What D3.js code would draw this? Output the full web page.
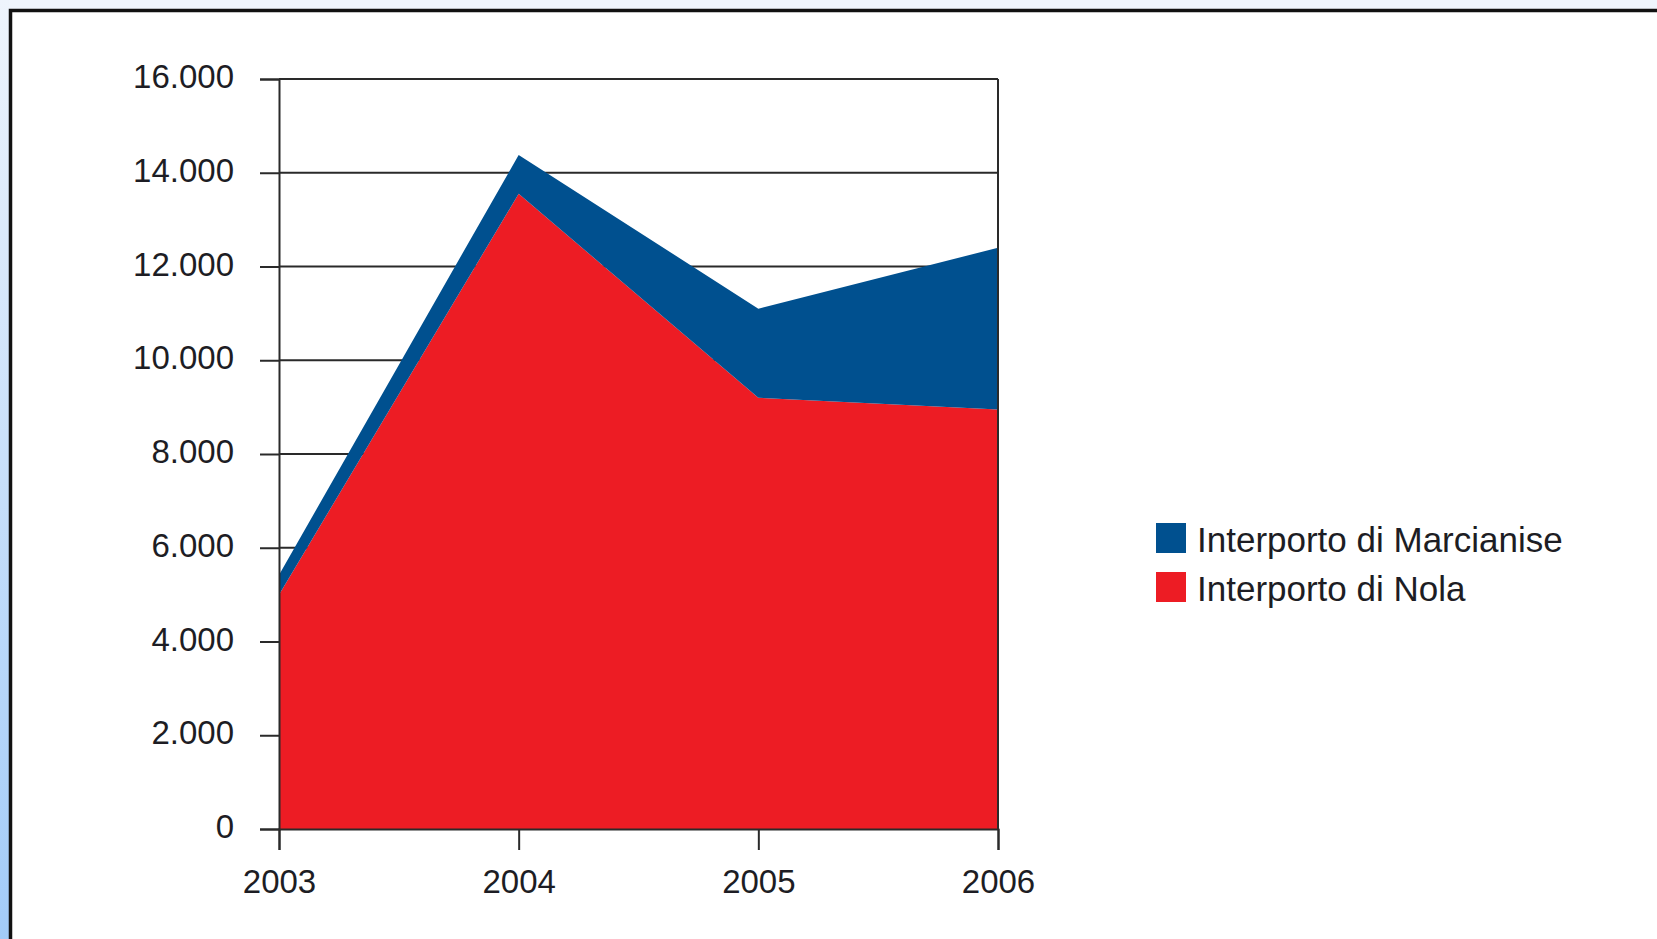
<!DOCTYPE html>
<html>
<head>
<meta charset="utf-8">
<script src="https://cdn.jsdelivr.net/npm/d3@7"></script>
<style>
html,body{margin:0;padding:0;background:#fff;overflow:hidden;}
svg{display:block;}
text{font-family:"Liberation Sans",Arial,sans-serif;fill:#1d1d24;}
</style>
</head>
<body>
<svg id="chart" width="1657" height="939"></svg>
<script>
const years = ["2003","2004","2005","2006"];
const nola = [5000, 13550, 9200, 8950];
const marcianise = [420, 830, 1900, 3450];
const seriesNames = ["Interporto di Marcianise","Interporto di Nola"];
const seriesColors = ["#00508f","#ed1c24"];
const yTicks = [0,2000,4000,6000,8000,10000,12000,14000,16000];

(function(){
const svg = d3.select("#chart");
const W = 1657, H = 939;

// page frame
const defs = svg.append("defs");
const grad = defs.append("linearGradient").attr("id","sideGrad").attr("x1",0).attr("y1",0).attr("x2",0).attr("y2",1);
grad.append("stop").attr("offset","0%").attr("stop-color","#eef4fc");
grad.append("stop").attr("offset","100%").attr("stop-color","#a2cbf8");
svg.append("rect").attr("x",0).attr("y",0).attr("width",W).attr("height",9).attr("fill","#eff5fd");
svg.append("rect").attr("x",0).attr("y",0).attr("width",9).attr("height",H).attr("fill","url(#sideGrad)");
svg.append("path").attr("d",`M10.5,${H} V10.5 H${W}`).attr("fill","none").attr("stroke","#111").attr("stroke-width",3.5);

const pL = 279, pR = 998, pT = 79, pB = 829;
const x = d3.scalePoint().domain(years).range([pL,pR]);
const y = d3.scaleLinear().domain([0,16000]).range([pB,pT]);

const fmt = v => v === 0 ? "0" : d3.format(",")(v).replace(/,/g,".");

// gridlines
svg.append("g").selectAll("line").data(yTicks.filter(d=>d>0)).join("line")
  .attr("x1",pL).attr("x2",pR)
  .attr("y1",d=>y(d)).attr("y2",d=>y(d))
  .attr("stroke","#2a2a2a").attr("stroke-width",2);

// stacked areas
const data = years.map((yr,i)=>({year:yr, nola:nola[i], marcianise:marcianise[i]}));
const stacked = d3.stack().keys(["nola","marcianise"])(data);
const area = d3.area().x(d=>x(d.data.year)).y0(d=>y(d[0])).y1(d=>y(d[1]));
const colorByKey = {nola: seriesColors[1], marcianise: seriesColors[0]};
svg.append("g").selectAll("path").data(stacked).join("path")
  .attr("d",area).attr("fill",d=>colorByKey[d.key]);

// right frame line
svg.append("line").attr("x1",pR).attr("x2",pR).attr("y1",pT).attr("y2",pB)
  .attr("stroke","#2a2a2a").attr("stroke-width",2);

// y axis
const yAxis = d3.axisLeft(y).tickValues(yTicks).tickFormat(fmt).tickSize(19).tickPadding(26);
const gy = svg.append("g").attr("transform",`translate(${pL},0)`).call(yAxis);
gy.select(".domain").attr("stroke","#2a2a2a").attr("stroke-width",2);
gy.selectAll(".tick line").attr("stroke","#2a2a2a").attr("stroke-width",2);
gy.selectAll(".tick text").attr("font-size",33).attr("font-family","Liberation Sans, Arial, sans-serif")
  .attr("fill","#1d1d24").attr("dy","0.26em");

// x axis
const xAxis = d3.axisBottom(x).tickSize(21).tickPadding(20);
const gx = svg.append("g").attr("transform",`translate(0,${pB})`).call(xAxis);
gx.select(".domain").attr("stroke","#2a2a2a").attr("stroke-width",2);
gx.selectAll(".tick line").attr("stroke","#2a2a2a").attr("stroke-width",2);
gx.selectAll(".tick text").attr("font-size",33).attr("font-family","Liberation Sans, Arial, sans-serif")
  .attr("fill","#1d1d24");

// legend
const lg = svg.append("g").attr("transform","translate(1156,523)");
seriesNames.forEach((name,i)=>{
  const g = lg.append("g").attr("transform",`translate(0,${i*49})`);
  g.append("rect").attr("width",30).attr("height",30).attr("fill",seriesColors[i]);
  g.append("text").attr("x",41).attr("y",29).attr("font-size",35).text(name);
});
})();
</script>
</body>
</html>
